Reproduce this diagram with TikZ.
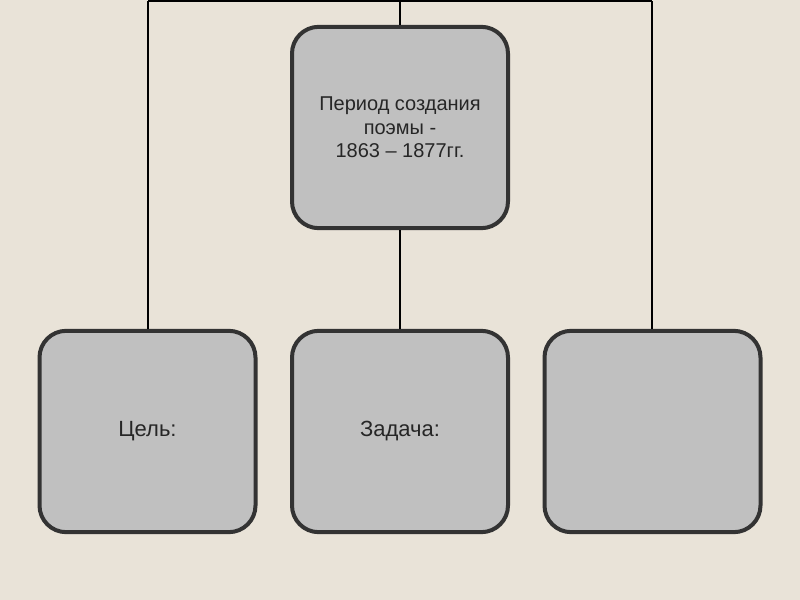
\documentclass[tikz,border=0pt]{standalone}
\usepackage{fontspec}
\setmainfont{Liberation Sans}
\begin{document}
\begin{tikzpicture}[x=0.75pt,y=-0.75pt,
  box/.style={draw=boxline, fill=boxfill, line width=3pt, rounded corners=20pt,
    minimum width=162pt, minimum height=151pt, inner sep=0pt, align=center,
    font=\fontsize{15}{17.6}\selectfont, text=black!85},
  bigtext/.style={font=\fontsize{16.5}{19}\selectfont},
  conn/.style={draw=black, line width=1.4pt}]
\definecolor{bg}{HTML}{E9E3D8}
\definecolor{boxfill}{HTML}{C0C0C0}
\definecolor{boxline}{HTML}{333333}
\fill[bg] (0,0) rectangle (800,600);
\useasboundingbox (0,0) rectangle (800,600);
\coordinate (topL) at (148,1);
\coordinate (topM) at (400,1);
\coordinate (topR) at (652,1);
\node[box] (T) at (400,127.5) {Период создания\\поэмы -\\1863 – 1877гг.};
\node[box,bigtext] (L) at (147.5,431.5) {Цель:};
\node[box,bigtext] (M) at (400,431.5) {Задача:};
\node[box] (R) at (652.5,431.5) {};
\draw[conn] (topL) -- (topR);
\draw[conn] (topL) -- (L.north -| topL);
\draw[conn] (topR) -- (R.north -| topR);
\draw[conn] (topM) -- (T.north);
\draw[conn] (T.south) -- (M.north);
\end{tikzpicture}
\end{document}
